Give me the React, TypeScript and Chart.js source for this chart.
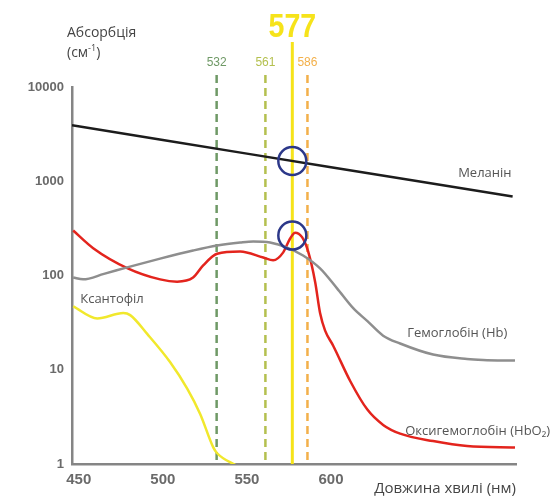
import React, { useEffect, useRef } from 'react';
import { Chart, registerables } from 'chart.js';

Chart.register(...registerables);

// Wavelengths (nm) and absorption (cm^-1)
const melaninWl = [446, 500, 550, 600, 650, 708];
const melaninAbs = [3920, 2735, 1964, 1409, 1011, 689];

const hbWl = [446.7, 452.6, 465, 478.8, 498.4, 518, 532.3, 546, 553.7, 563.8, 573.9, 583.4, 593.5, 603.6, 613.2, 621.5, 631, 641.1, 660.7, 680.9, 690.4, 709.4];
const hbAbs = [95, 91, 104, 122, 151, 184, 208, 224, 230, 224, 198, 163, 119, 73, 45, 33, 23, 19, 14.5, 13, 12.7, 12.5];

const hbo2Wl = [446.7, 458.6, 478.8, 498.4, 508.5, 518, 524, 532.3, 546, 559.7, 565.6, 571.6, 575.7, 578.7, 582.8, 586.4, 590.6, 593.5, 596.5, 601.3, 611.4, 621.5, 631, 641.1, 660.7, 680.9, 709.4];
const hbo2Abs = [300, 195, 120, 91, 86, 95, 128, 170, 180, 155, 145, 176, 247, 285, 255, 180, 85, 40, 26, 18, 7.6, 3.8, 2.6, 2.1, 1.75, 1.55, 1.5];

const xanthWl = [446.7, 461, 476.5, 480.6, 490.7, 504.4, 514.5, 522.2, 530, 532.3, 544.2];
const xanthAbs = [47, 35, 40, 38, 24, 12, 6.3, 3.4, 1.5, 1.3, 0.95];

const markerWl = [532, 561, 577, 586];
const markerLabels = ['532', '561', '577', '586'];
const markerColors = ['#6f9966', '#b4c04f', '#f6e31a', '#f3b04a'];

const circleWl = [577, 577];
const circleAbs = [1640, 265];

const curveNames = ['Меланін', 'Гемоглобін (Hb)', 'Оксигемоглобін (HbO₂)', 'Ксантофіл'];
const curveNameWl = [675.6, 645.3, 644.1, 450.9];
const curveNameAbs = [1224, 24.4, 2.2, 55.6];

const yTicks = [1, 10, 100, 1000, 10000];
const xTicks = [450, 500, 550, 600];

const yTitle = 'Абсорбція';
const yUnit = ['(см', '-1', ')'];
const xTitle = 'Довжина хвилі (нм)';

const toPts = (xs: number[], ys: number[]) => xs.map((v, i) => ({ x: v, y: ys[i] }));

const TEXT_FONT = '"Open Sans", "Noto Sans", sans-serif';
const NUM_FONT = '"Liberation Sans", Arial, sans-serif';

const overlay = {
  id: 'overlay',
  beforeDatasetsDraw(chart: any) {
    const { ctx, chartArea, scales } = chart;
    const x = scales.x;
    ctx.save();
    markerWl.forEach((wl, i) => {
      const px = x.getPixelForValue(wl);
      const main = i === 2;
      ctx.strokeStyle = markerColors[i];
      ctx.lineWidth = main ? 3 : 2.5;
      ctx.setLineDash(main ? [] : [8, 5]);
      ctx.beginPath();
      ctx.moveTo(px, main ? 42 : 75);
      ctx.lineTo(px, chartArea.bottom);
      ctx.stroke();
      ctx.setLineDash([]);
      ctx.fillStyle = markerColors[i];
      ctx.textAlign = 'center';
      if (main) {
        ctx.save();
        ctx.translate(px, 37);
        ctx.scale(0.84, 1);
        ctx.font = 'bold 34px ' + NUM_FONT;
        ctx.textBaseline = 'alphabetic';
        ctx.fillText(markerLabels[i], 0, 0);
        ctx.restore();
      } else {
        ctx.font = '12px ' + NUM_FONT;
        ctx.textBaseline = 'middle';
        ctx.fillText(markerLabels[i], px, 63);
      }
    });
    ctx.restore();
  },
  afterDatasetsDraw(chart: any) {
    const { ctx, chartArea, scales } = chart;
    const x = scales.x;
    const y = scales.y;
    ctx.save();
    // circles
    ctx.strokeStyle = '#2c3889';
    ctx.lineWidth = 2.5;
    circleWl.forEach((wl, i) => {
      ctx.beginPath();
      ctx.arc(x.getPixelForValue(wl), y.getPixelForValue(circleAbs[i]), 14, 0, Math.PI * 2);
      ctx.stroke();
    });
    // curve names
    ctx.fillStyle = '#555555';
    ctx.font = '13px ' + TEXT_FONT;
    ctx.textAlign = 'left';
    ctx.textBaseline = 'middle';
    curveNames.forEach((n, i) => {
      ctx.fillText(n, x.getPixelForValue(curveNameWl[i]), y.getPixelForValue(curveNameAbs[i]));
    });
    // y title
    ctx.fillStyle = '#444444';
    ctx.font = '14px ' + TEXT_FONT;
    const tx = chartArea.left - 5;
    ctx.fillText(yTitle, tx, 33);
    let cx = tx;
    ctx.fillText(yUnit[0], cx, 53);
    cx += ctx.measureText(yUnit[0]).width;
    ctx.font = '9px ' + TEXT_FONT;
    ctx.fillText(yUnit[1], cx, 48);
    cx += ctx.measureText(yUnit[1]).width;
    ctx.font = '14px ' + TEXT_FONT;
    ctx.fillText(yUnit[2], cx, 53);
    // x title
    ctx.font = '15px ' + TEXT_FONT;
    ctx.textAlign = 'right';
    ctx.fillText(xTitle, chartArea.right, 489);
    ctx.restore();
  },
};

export default function App() {
  const ref = useRef<HTMLCanvasElement | null>(null);
  useEffect(() => {
    document.body.style.margin = '0';
    if (!ref.current) return;
    const line = (data: any, color: string, width: number, mono = true) => ({
      data,
      borderColor: color,
      backgroundColor: color,
      borderWidth: width,
      pointRadius: 0,
      fill: false,
      tension: mono ? 0.4 : 0,
      cubicInterpolationMode: mono ? 'monotone' : 'default',
    });
    const chart = new Chart(ref.current, {
      type: 'line',
      data: {
        datasets: [
          line(toPts(xanthWl, xanthAbs), '#f1e82c', 2.5),
          line(toPts(hbWl, hbAbs), '#8e8e8e', 2.5),
          line(toPts(hbo2Wl, hbo2Abs), '#e3241d', 2.5),
          line(toPts(melaninWl, melaninAbs), '#1c1c1c', 2.5, false),
        ] as any,
      },
      options: {
        animation: false,
        responsive: false,
        layout: { padding: { left: 0, top: 87, right: 44, bottom: 0 } },
        plugins: { legend: { display: false }, tooltip: { enabled: false } },
        scales: {
          x: {
            type: 'linear',
            min: 446,
            max: 710,
            grid: { display: false, drawTicks: false },
            border: { display: true, color: '#858585', width: 2.5 },
            afterBuildTicks: (s: any) => { s.ticks = xTicks.map((v) => ({ value: v })); },
            afterFit: (s: any) => { s.height = 33; },
            ticks: {
              color: '#6a6a6a',
              padding: 7,
              font: { family: NUM_FONT, size: 15, weight: 'bold' },
              callback: (v: any) => String(v),
              maxRotation: 0,
            },
          },
          y: {
            type: 'logarithmic',
            min: 1,
            max: 10000,
            grid: { display: false, drawTicks: false },
            border: { display: true, color: '#858585', width: 2.5 },
            afterBuildTicks: (s: any) => { s.ticks = yTicks.map((v) => ({ value: v })); },
            afterFit: (s: any) => { s.width = 72; },
            ticks: {
              color: '#6a6a6a',
              padding: 8,
              font: { family: NUM_FONT, size: 13, weight: 'bold' },
              callback: (v: any) => String(v),
            },
          },
        },
      } as any,
      plugins: [overlay],
    });
    return () => chart.destroy();
  }, []);
  return (
    <div style={{ width: 560, height: 497, background: '#ffffff' }}>
      <canvas ref={ref} width={560} height={497} />
    </div>
  );
}
